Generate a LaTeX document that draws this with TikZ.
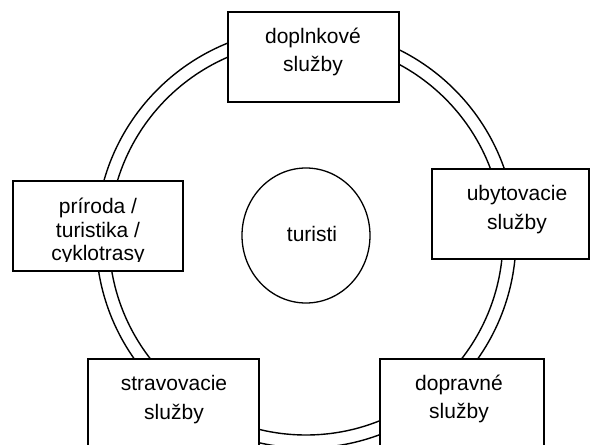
\documentclass[tikz,border=0pt]{standalone}
\usepackage{fontspec}
\setmainfont{Liberation Sans}
\usetikzlibrary{shapes.geometric}
\begin{document}
\begin{tikzpicture}[x=1pt,y=-1pt,
  ring/.style={line width=1.4pt},
  box/.style={draw,fill=white,line width=1.5pt,inner sep=0pt},
  lbl/.style={font=\fontsize{21}{25}\selectfont,anchor=base,inner sep=0pt}]
\clip (0,0) rectangle (590,445);
\fill[white] (0,0) rectangle (590,445);
\coordinate (c) at (306,238);
\draw[ring] (c) circle[radius=197];
\draw[ring] (c) circle[radius=210];
% boxes
\node[box,minimum width=171pt,minimum height=90pt] (dopl) at (313.5,57) {};
\node[box,minimum width=157pt,minimum height=90pt] (uby) at (510.5,214) {};
\node[box,minimum width=164pt,minimum height=101pt] (dopr) at (462,409.5) {};
\node[box,minimum width=171pt,minimum height=101pt] (strav) at (173.5,409.5) {};
\node[box,minimum width=170pt,minimum height=90pt] (prir) at (98,226) {};
\node[draw,fill=white,ellipse,line width=1.3pt,minimum width=128pt,minimum height=135pt,inner sep=0pt] (tur) at (306,235.5) {};
% labels
\node[lbl] (dopl1) at (313,43) {doplnkové};
\node[lbl] (dopl2) at (313,71) {služby};
\node[lbl] (uby1) at (517,200) {ubytovacie};
\node[lbl] (uby2) at (517,229) {služby};
\node[lbl] (dopr1) at (459,390) {dopravné};
\node[lbl] (dopr2) at (459,418) {služby};
\node[lbl] (strav1) at (174,390) {stravovacie};
\node[lbl] (strav2) at (174,419) {služby};
\node[lbl] (prir1) at (98,213) {príroda /};
\node[lbl] (prir2) at (98,237) {turistika /};
\begin{scope}
\clip (14,181) rectangle (182,261);
\node[lbl] (prir3) at (98,260) {cyklotrasy};
\end{scope}
\node[lbl] (tur1) at (312,241) {turisti};
\end{tikzpicture}
\end{document}
